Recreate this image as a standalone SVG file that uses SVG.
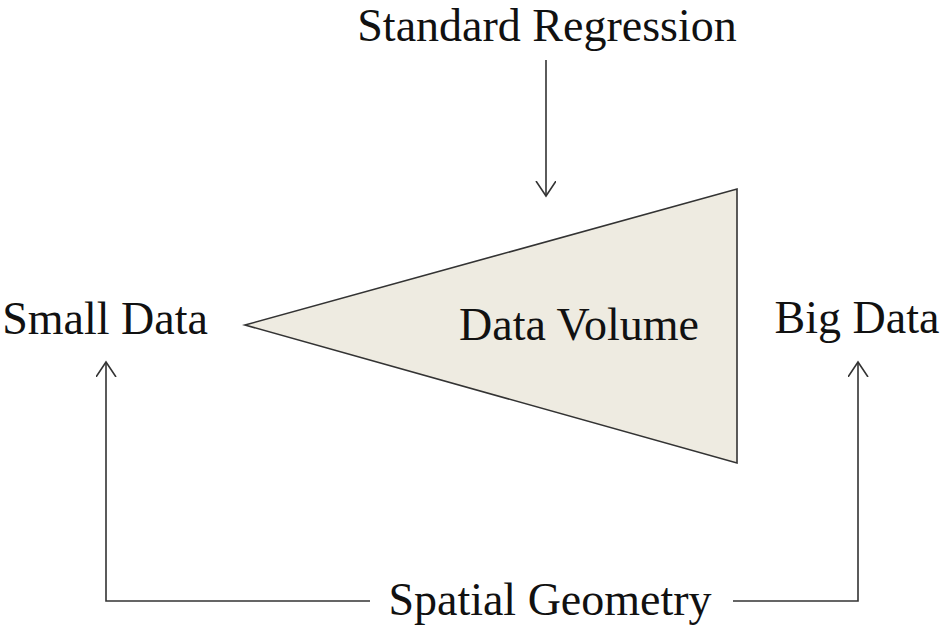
<svg xmlns="http://www.w3.org/2000/svg" width="941" height="625" viewBox="0 0 941 625">
<style>
text{font-family:"Liberation Serif","Times New Roman",serif;font-size:46px;fill:#111;}
.c{fill:none;stroke:#333;stroke-width:1.6;}
</style>
<defs>
<marker id="a" markerWidth="24" markerHeight="24" refX="15" refY="10" orient="auto" markerUnits="userSpaceOnUse" viewBox="0 0 24 24">
<path d="M0,0 L15,10 L0,20" fill="none" stroke="#333" stroke-width="1.6"/>
</marker>
</defs>
<rect width="941" height="625" fill="#fff"/>
<g id="connectors">
<line class="c" x1="546" y1="60" x2="546" y2="196" marker-end="url(#a)"/>
<polyline class="c" points="370,601 106,601 106,362" marker-end="url(#a)"/>
<polyline class="c" points="733,601 858,601 858,362" marker-end="url(#a)"/>
</g>
<g id="data-volume">
<polygon points="245,325 737,189 737,463" fill="#eeebe1" stroke="#333" stroke-width="1.6"/>
<text x="579" y="340" text-anchor="middle">Data Volume</text>
</g>
<g id="standard-regression"><text x="547" y="41" text-anchor="middle">Standard Regression</text></g>
<g id="small-data"><text x="105" y="334" text-anchor="middle">Small Data</text></g>
<g id="big-data"><text x="857" y="333" text-anchor="middle">Big Data</text></g>
<g id="spatial-geometry"><text x="550" y="615" text-anchor="middle">Spatial Geometry</text></g>
</svg>
